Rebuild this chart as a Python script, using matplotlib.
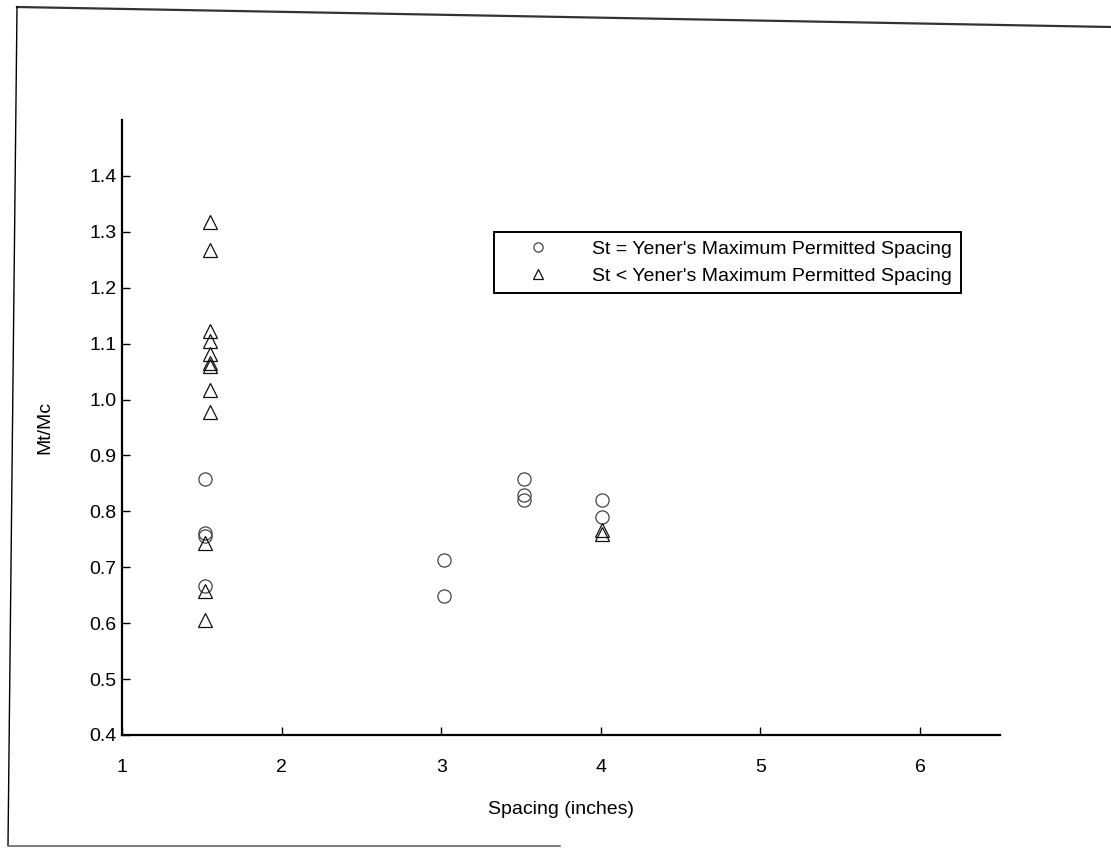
import matplotlib
matplotlib.use("Agg")
import matplotlib.pyplot as plt
from matplotlib.lines import Line2D

plt.rcParams['font.family'] = ['Liberation Sans', 'DejaVu Sans']

# Series: St = Yener's maximum permitted spacing (circles)
eq_x = [1.52, 1.52, 1.52, 1.52, 3.02, 3.02, 3.52, 3.52, 3.52, 4.01, 4.01]
eq_y = [0.857, 0.762, 0.756, 0.666, 0.713, 0.648, 0.858, 0.830, 0.821, 0.821, 0.789]

# Series: St < Yener's maximum permitted spacing (triangles)
lt_x = [1.55, 1.55, 1.55, 1.55, 1.55, 1.55, 1.55, 1.55, 1.55, 1.52, 1.52, 1.52, 4.01, 4.01]
lt_y = [1.318, 1.267, 1.122, 1.104, 1.082, 1.066, 1.060, 1.017, 0.977, 0.744, 0.657, 0.606, 0.767, 0.760]

labels = ["St = Yener's Maximum Permitted Spacing",
          "St < Yener's Maximum Permitted Spacing"]
xticks = [1, 2, 3, 4, 5, 6]
yticks = [0.4, 0.5, 0.6, 0.7, 0.8, 0.9, 1.0, 1.1, 1.2, 1.3, 1.4]

fig = plt.figure(figsize=(11.11, 8.49), dpi=100)
ax = fig.add_axes([0.1098, 0.1343, 0.7902, 0.7244])

ax.plot(eq_x, eq_y, linestyle='none', marker='o', markersize=9.5,
        markerfacecolor='none', markeredgecolor='#444444', markeredgewidth=0.9,
        label=labels[0])
ax.plot(lt_x, lt_y, linestyle='none', marker='^', markersize=9.5,
        markerfacecolor='none', markeredgecolor='#111111', markeredgewidth=0.9,
        label=labels[1])

ax.set_xlim(1, 6.5)
ax.set_ylim(0.4, 1.5)
ax.set_xticks(xticks)
ax.set_xticklabels([str(v) for v in xticks])
ax.set_yticks(yticks)
ax.set_yticklabels([f"{v:.1f}" for v in yticks])
for s in ['top', 'right']:
    ax.spines[s].set_visible(False)
for s in ['left', 'bottom']:
    ax.spines[s].set_linewidth(1.6)
ax.tick_params(direction='in', length=6, width=1, labelsize=14)
ax.tick_params(axis='y', pad=4)
ax.tick_params(axis='x', pad=17)

ax.set_xlabel("Spacing (inches)", fontsize=14, labelpad=18)
ax.set_ylabel("Mt/Mc", fontsize=14, labelpad=26)

leg = ax.legend(loc='upper left', bbox_to_anchor=(0.4237, 0.818), fontsize=14,
                frameon=True, fancybox=False, framealpha=1, edgecolor='black',
                markerscale=0.7, handletextpad=1.0, handlelength=3.6,
                borderpad=0.45, labelspacing=0.45, borderaxespad=0)
leg.get_frame().set_linewidth(1.4)

# scanned page border
fig.add_artist(Line2D([17/1111, 1.0], [1 - 7/849, 1 - 27/849], transform=fig.transFigure,
                      color='#333333', linewidth=1.6))
fig.add_artist(Line2D([17/1111, 8/1111], [1 - 7/849, 1 - 845/849], transform=fig.transFigure,
                      color='black', linewidth=1.0))
fig.add_artist(Line2D([8/1111, 560/1111], [1 - 846/849, 1 - 846/849], transform=fig.transFigure,
                      color='#666666', linewidth=1.2))

fig.savefig("out.png", dpi=100, facecolor='white')
